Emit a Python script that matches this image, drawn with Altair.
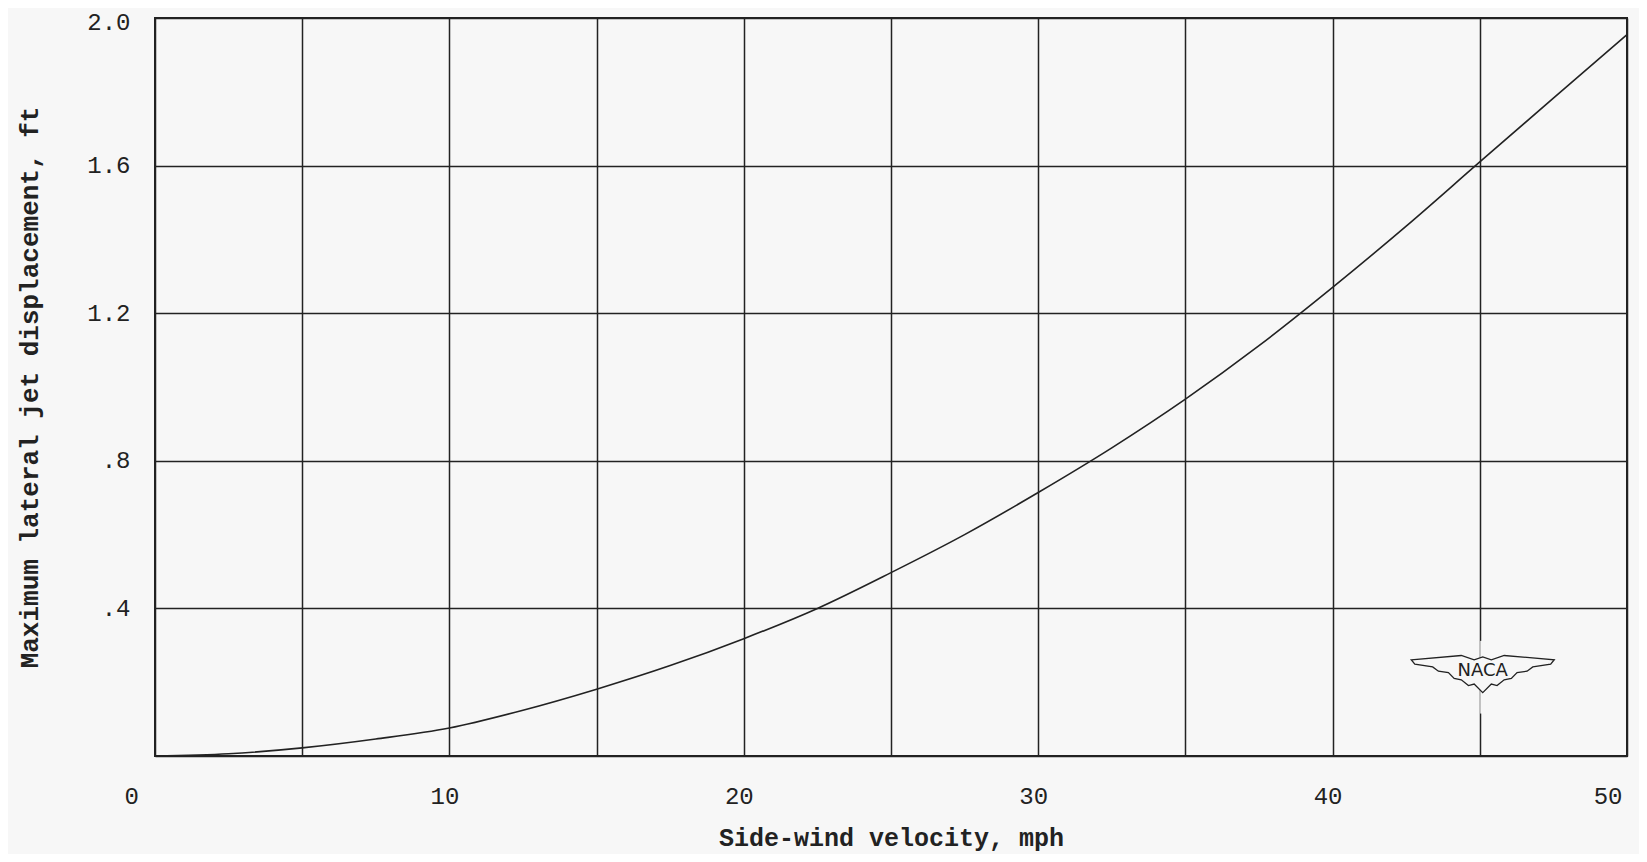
import altair as alt
import pandas as pd

# Curve (side-wind velocity, mph -> max lateral jet displacement, ft)
velocity = [0, 2.5, 5, 7.5, 10, 12.5, 15, 17.5, 20, 22.5, 25, 27.5, 30, 32.5, 35, 37.5, 40, 42.5, 45, 47.5, 50]
displacement = [0.0, 0.006, 0.022, 0.046, 0.076, 0.124, 0.181, 0.245, 0.318, 0.400, 0.497, 0.600, 0.714, 0.835, 0.967, 1.112, 1.270, 1.436, 1.610, 1.783, 1.955]

x_ticks = [0, 5, 10, 15, 20, 25, 30, 35, 40, 45, 50]
x_tick_labels = ["0", "", "10", "", "20", "", "30", "", "40", "", "50"]
y_ticks = [0, 0.4, 0.8, 1.2, 1.6, 2.0]
y_tick_labels = ["", ".4", ".8", "1.2", "1.6", "2.0"]

# NACA emblem placement (data space)
logo = pd.DataFrame({"x": [45.1], "y": [0.222], "gap_lo": [0.115], "gap_hi": [0.312], "label": ["NACA"]})

df = pd.DataFrame({"v": velocity, "d": displacement})

BG = "#f7f7f7"
INK = "#222222"
FONT = "Liberation Mono"

x_lab_js = "[" + ",".join("'%s'" % s for s in x_tick_labels) + "]"
y_lab_js = "[" + ",".join("'%s'" % s for s in y_tick_labels) + "]"

xscale = alt.Scale(domain=[0, 50], nice=False)
yscale = alt.Scale(domain=[0, 2.0], nice=False)

x_axis = alt.Axis(
    values=x_ticks,
    labelExpr=x_lab_js + "[round(datum.value / 5)]",
    title="Side-wind velocity, mph",
    grid=True, gridColor=INK, gridWidth=1.5, gridOpacity=1,
    ticks=False, tickSize=0, domain=False,
    labelPadding=28, labelFontSize=24, labelFont=FONT, labelColor=INK,
    labelOffset=alt.ExprRef("datum.value == 0 ? -31 : -5"),
    titleFont=FONT, titleFontSize=25, titleFontWeight="bold", titleColor=INK,
    titleY=89, titleBaseline="alphabetic",
)
y_axis = alt.Axis(
    values=y_ticks,
    labelExpr=y_lab_js + "[round(datum.value / 0.4)]",
    title="Maximum lateral jet displacement, ft",
    grid=True, gridColor=INK, gridWidth=1.5, gridOpacity=1,
    ticks=False, tickSize=0, domain=False,
    labelPadding=25, labelFontSize=24, labelFont=FONT, labelColor=INK,
    labelBaseline="middle",
    labelOffset=alt.ExprRef("datum.value == 2 ? 4 : 0"),
    titleFont=FONT, titleFontSize=26, titleFontWeight="bold", titleColor=INK,
    titleX=-126, titleBaseline="middle",
)

curve = alt.Chart(df).mark_line(color=INK, strokeWidth=1.6, interpolate="monotone").encode(
    x=alt.X("v:Q", scale=xscale, axis=x_axis),
    y=alt.Y("d:Q", scale=yscale, axis=y_axis),
)

gap = alt.Chart(logo).mark_rule(color=BG, strokeWidth=5).encode(
    x=alt.X("x:Q", scale=xscale), y=alt.Y("gap_lo:Q", scale=yscale), y2="gap_hi:Q"
)

wing_path = ("M-1,-0.2 L-0.3,-0.26 L-0.12,-0.2 L0,-0.24 L0.12,-0.2 L0.3,-0.26 L1,-0.2 "
             "L0.95,-0.14 L0.7,-0.1 L0.62,-0.04 L0.48,-0.02 L0.4,0.06 L0.3,0.08 L0.2,0.16 "
             "L0.12,0.14 L0,0.26 L-0.12,0.14 L-0.2,0.16 L-0.3,0.08 L-0.4,0.06 L-0.48,-0.02 "
             "L-0.62,-0.04 L-0.7,-0.1 L-0.95,-0.14 Z")

wings = alt.Chart(logo).mark_point(
    shape=wing_path, size=20449, filled=True, fill=BG, stroke=INK, strokeWidth=1.3, opacity=1
).encode(x=alt.X("x:Q", scale=xscale), y=alt.Y("y:Q", scale=yscale))

naca = alt.Chart(logo).mark_text(
    font="DejaVu Sans", fontSize=18, color=INK, baseline="middle", align="center", dy=-3
).encode(x=alt.X("x:Q", scale=xscale), y=alt.Y("y:Q", scale=yscale), text="label:N")

chart = alt.layer(gap, wings, naca, curve).properties(
    width=1472, height=738,
    background=BG,
    autosize=alt.AutoSizeParams(type="none"),
    padding={"left": 147, "top": 10, "right": 12, "bottom": 98},
).configure_view(stroke=INK, strokeWidth=2)

chart.save("out.html", embed_options={"renderer": "svg", "actions": False})
